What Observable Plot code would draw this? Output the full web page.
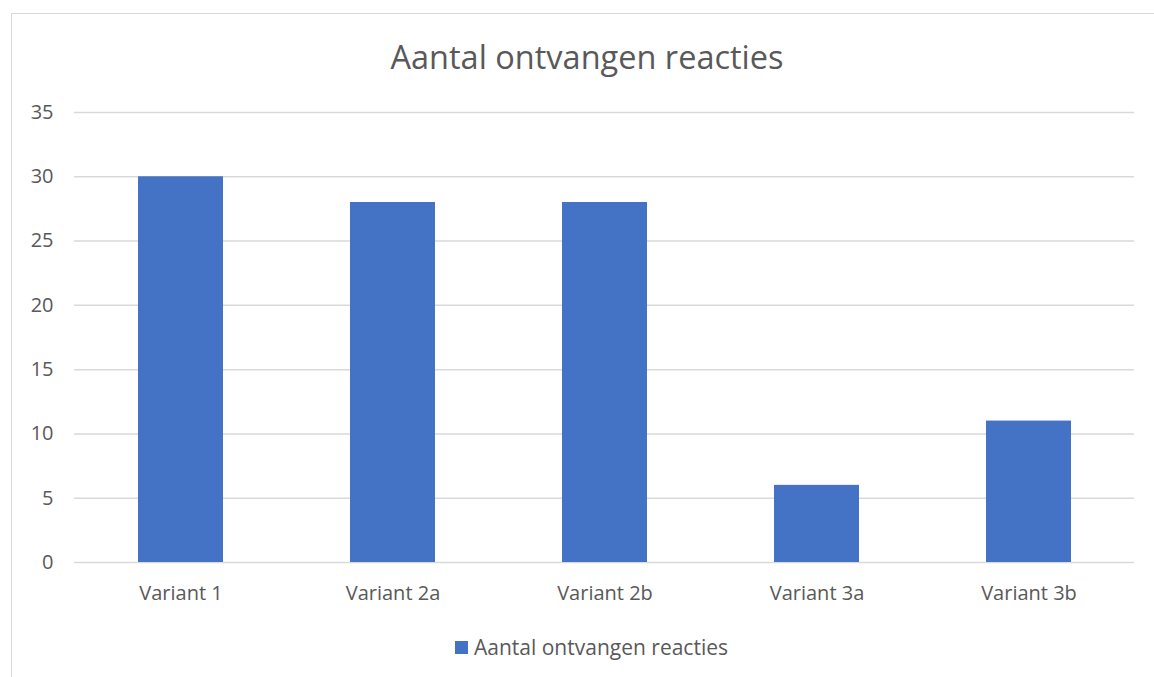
<!DOCTYPE html>
<html>
<head>
<meta charset="utf-8">
<script src="https://cdn.jsdelivr.net/npm/d3@7"></script>
<script src="https://cdn.jsdelivr.net/npm/@observablehq/plot@0.6"></script>
<style>
  html, body { margin: 0; padding: 0; background: #fff; }
  body { width: 1154px; height: 677px; position: relative; overflow: hidden; font-family: "Open Sans", "Noto Sans", sans-serif; }
  #frame { position: absolute; left: 11px; top: 13px; width: 1160px; height: 700px; border: 1px solid #d9d9d9; box-sizing: border-box; }
  #title { position: absolute; left: 0; width: 1174px; top: 34px; text-align: center; font-size: 32.5px; color: #595959; line-height: 46px; }
  #chart { position: absolute; left: 0; top: 0; }
  #legend { position: absolute; left: 455px; top: 632px; font-size: 21px; color: #595959; line-height: 30px; display: flex; align-items: center; }
  #legend .sw { width: 13px; height: 13px; background: #4472c4; margin-right: 6px; }
</style>
</head>
<body>
<div id="frame"></div>
<div id="chart"></div>
<div id="title">Aantal ontvangen reacties</div>
<div id="legend"><span class="sw"></span><span>Aantal ontvangen reacties</span></div>
<script>
const categories = ["Variant 1", "Variant 2a", "Variant 2b", "Variant 3a", "Variant 3b"];
const values = [30, 28, 28, 6, 11];
const yTicks = [0, 5, 10, 15, 20, 25, 30, 35];
const seriesName = "Aantal ontvangen reacties";

const data = categories.map((c, i) => ({category: c, value: values[i]}));

const chart = Plot.plot({
  width: 1154,
  height: 677,
  marginTop: 112,
  marginBottom: 115,
  marginLeft: 74,
  marginRight: 20,
  style: {fontFamily: "'Open Sans', 'Noto Sans', sans-serif", fontSize: "20px", color: "#595959", background: "transparent"},
  x: {domain: categories, paddingInner: 0.6, paddingOuter: 0.3, label: null},
  y: {domain: [0, 35], label: null},
  marks: [
    Plot.gridY(yTicks, {stroke: "#d9d9d9", strokeOpacity: 1, strokeWidth: 1.5}),
    Plot.barY(data, {x: "category", y: "value", fill: "#4472c4"}),
    Plot.axisY(yTicks, {tickSize: 0, tickPadding: 21, fill: "#595959", fontSize: 20, label: null}),
    Plot.axisX({tickSize: 0, tickPadding: 23, fill: "#595959", fontSize: 20, label: null})
  ]
});
document.getElementById("chart").appendChild(chart);
</script>
</body>
</html>
